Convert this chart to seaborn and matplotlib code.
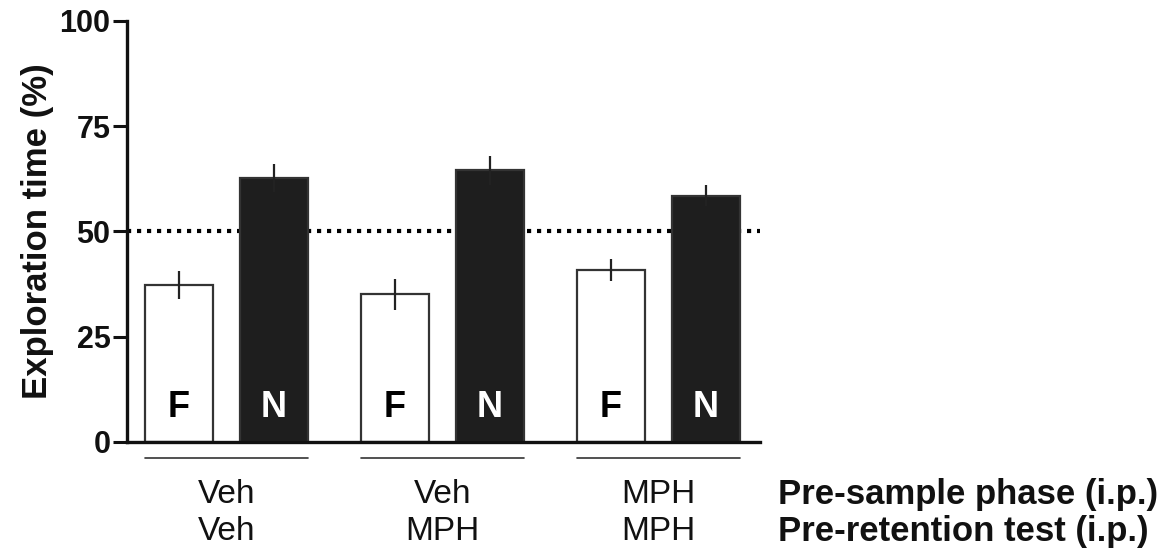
"""
Novel object recognition: exploration time of familiar (F) vs novel (N)
object for three drug treatment groups.
"""
import matplotlib
matplotlib.use("Agg")
import matplotlib.pyplot as plt
import matplotlib.transforms as mtransforms
import pandas as pd
import seaborn as sns

# group labels (two treatment rows under each pair of bars)
PRE_SAMPLE = ["Veh", "Veh", "MPH"]
PRE_RETENTION = ["Veh", "MPH", "MPH"]
GROUPS = ["Veh/Veh", "Veh/MPH", "MPH/MPH"]
OBJECTS = ["F", "N"]

# mean exploration time (%) and SEM
FAMILIAR = [37.3, 35.1, 40.9]
FAMILIAR_SEM = [3.4, 3.7, 2.6]
NOVEL = [62.6, 64.5, 58.5]
NOVEL_SEM = [3.3, 3.5, 2.5]

Y_TICKS = [0, 25, 50, 75, 100]
CHANCE = 50


def main():
    sns.set_style("ticks")
    plt.rcParams["font.family"] = ["Liberation Sans", "DejaVu Sans"]
    plt.rcParams["text.color"] = "#111111"
    plt.rcParams["ytick.color"] = "#111111"
    plt.rcParams["axes.labelcolor"] = "#111111"
    plt.rcParams["axes.edgecolor"] = "#111111"

    df = pd.DataFrame({
        "group": GROUPS * 2,
        "object": ["F"] * 3 + ["N"] * 3,
        "value": FAMILIAR + NOVEL,
        "sem": FAMILIAR_SEM + NOVEL_SEM,
    })

    fig = plt.figure(figsize=(11.71, 5.51), dpi=100)
    ax = fig.add_axes([0.1085, 0.198, 0.5405, 0.764])

    ax.axhline(CHANCE, color="black", lw=3, ls=(0, (1, 1.4)),
               dash_capstyle="butt", zorder=0)

    sns.barplot(data=df, x="group", y="value", hue="object", order=GROUPS,
                hue_order=OBJECTS, palette={"F": "white", "N": "#1e1e1e"},
                width=0.88, gap=0.284, edgecolor="#333333", linewidth=1.6,
                errorbar=None, legend=False, zorder=2, ax=ax)

    # error bars + letters inside the bars
    for cont, obj in zip(ax.containers, OBJECTS):
        sub = df[df["object"] == obj].reset_index(drop=True)
        for bar, (_, row) in zip(cont, sub.iterrows()):
            xc = bar.get_x() + bar.get_width() / 2
            ax.errorbar(xc, row["value"], yerr=row["sem"], fmt="none",
                        ecolor="#222222", elinewidth=1.6, capsize=0, zorder=2.5)
            ax.text(xc, 8.2, obj, ha="center", va="center", fontsize=26,
                    fontweight="bold",
                    color="black" if obj == "F" else "white", zorder=3)

    ax.set_ylim(0, 100)
    ax.set_xlim(-0.46, 2.47)
    ax.set_yticks(Y_TICKS)
    ax.set_xlabel("")
    ax.set_ylabel("Exploration time (%)", fontsize=25, fontweight="bold",
                  labelpad=4)
    ax.tick_params(axis="y", length=10, width=2.2, labelsize=22, pad=2)
    for lab in ax.get_yticklabels():
        lab.set_fontweight("bold")
    ax.tick_params(axis="x", length=0, labelbottom=False)
    for side in ["left", "bottom"]:
        ax.spines[side].set_linewidth(2.4)
    sns.despine(ax=ax)

    # group underlines and treatment labels below the axis
    trans = mtransforms.blended_transform_factory(ax.transData, ax.transAxes)
    left_bars = ax.containers[0]
    right_bars = ax.containers[1]
    for i in range(len(GROUPS)):
        x0 = left_bars[i].get_x()
        x1 = right_bars[i].get_x() + right_bars[i].get_width()
        ax.plot([x0, x1], [-0.038, -0.038], color="#333333", lw=1.2,
                transform=trans, clip_on=False)
        xc = (x0 + x1) / 2
        ax.text(xc, -0.125, PRE_SAMPLE[i], transform=trans, ha="center",
                va="center", fontsize=24)
        ax.text(xc, -0.212, PRE_RETENTION[i], transform=trans, ha="center",
                va="center", fontsize=24)

    fig.text(0.664, 0.103, "Pre-sample phase (i.p.)", ha="left", va="center",
             fontsize=25, fontweight="bold")
    fig.text(0.664, 0.036, "Pre-retention test (i.p.)", ha="left", va="center",
             fontsize=25, fontweight="bold")

    fig.savefig("out.png", dpi=100)
    plt.close(fig)


if __name__ == "__main__":
    main()
